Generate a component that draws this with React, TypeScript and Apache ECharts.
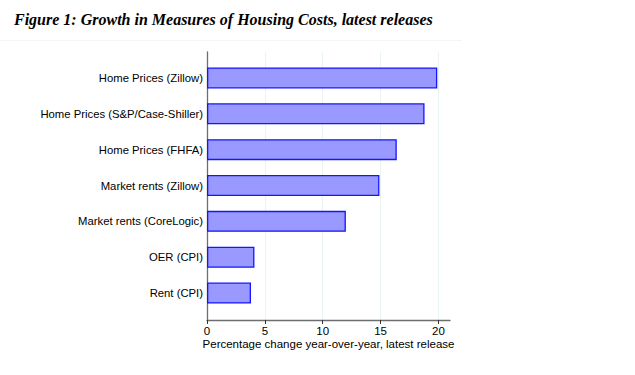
import React, { useEffect, useRef } from "react";
import * as echarts from "echarts";

const categories = [
  "Home Prices (Zillow)",
  "Home Prices (S&P/Case-Shiller)",
  "Home Prices (FHFA)",
  "Market rents (Zillow)",
  "Market rents (CoreLogic)",
  "OER (CPI)",
  "Rent (CPI)",
];
const values = [19.9, 18.8, 16.4, 14.9, 12.0, 4.1, 3.8];
const xTicks = [0, 5, 10, 15, 20];
const titleText = "Figure 1: Growth in Measures of Housing Costs, latest releases";
const xAxisTitle = "Percentage change year-over-year, latest release";

export default function App() {
  const ref = useRef<HTMLDivElement>(null);
  useEffect(() => {
    if (!ref.current) return;
    const chart = echarts.init(ref.current, undefined, { renderer: "svg" });
    const font = "'Liberation Sans', Arial, sans-serif";
    chart.setOption({
      animation: false,
      backgroundColor: "#ffffff",
      title: {
        text: titleText,
        left: 9,
        top: 6,
        textStyle: {
          fontFamily: "'Liberation Serif', 'Times New Roman', serif",
          fontStyle: "italic",
          fontWeight: "bold",
          fontSize: 16,
          color: "#000",
        },
      },
      graphic: [
        {
          type: "line",
          shape: { x1: 0, y1: 40.5, x2: 462, y2: 40.5 },
          style: { stroke: "#f3f6f6", lineWidth: 1 },
          silent: true,
        },
      ],
      grid: [
        { left: 207, right: 185, top: 60, bottom: 64 },
        { left: 207, right: 185, top: 52, bottom: 55 },
      ],
      xAxis: [
        {
          gridIndex: 0,
          type: "value",
          min: 0,
          max: 21,
          show: false,
        },
        {
          gridIndex: 1,
          type: "value",
          min: 0,
          max: 21,
          axisLine: { show: true, lineStyle: { color: "#6e6e6e", width: 1.3 } },
          axisTick: {
            show: true,
            length: 4,
            customValues: xTicks,
            lineStyle: { color: "#333", width: 1 },
          },
          axisLabel: {
            customValues: xTicks,
            margin: 5,
            fontFamily: font,
            fontSize: 11.5,
            color: "#000",
          },
          splitLine: {
            show: true,
            lineStyle: { color: "#eaf2f3", width: 1 },
          },
          name: xAxisTitle,
          nameLocation: "middle",
          nameGap: 18,
          nameMoveOverlap: false,
          nameTextStyle: { fontFamily: font, fontSize: 11.5, color: "#000" },
        },
      ],
      yAxis: [
        {
          gridIndex: 0,
          type: "category",
          data: categories,
          inverse: true,
          axisLine: { show: false },
          axisTick: { show: false },
          axisLabel: {
            margin: 4,
            fontFamily: font,
            fontSize: 11.3,
            color: "#000",
          },
        },
        {
          gridIndex: 1,
          type: "value",
          min: 0,
          max: 1,
          axisLine: { show: true, lineStyle: { color: "#6e6e6e", width: 1.3 } },
          axisTick: { show: false },
          axisLabel: { show: false },
          splitLine: { show: false },
        },
      ],
      series: [
        {
          type: "bar",
          xAxisIndex: 0,
          yAxisIndex: 0,
          data: values,
          barWidth: 21,
          itemStyle: {
            color: "#9999ff",
            borderColor: "#1414ff",
            borderWidth: 1.3,
          },
        },
      ],
    });
    return () => chart.dispose();
  }, []);
  return (
    <div
      ref={ref}
      style={{ position: "absolute", left: 0, top: 0, width: 635, height: 375 }}
    />
  );
}
